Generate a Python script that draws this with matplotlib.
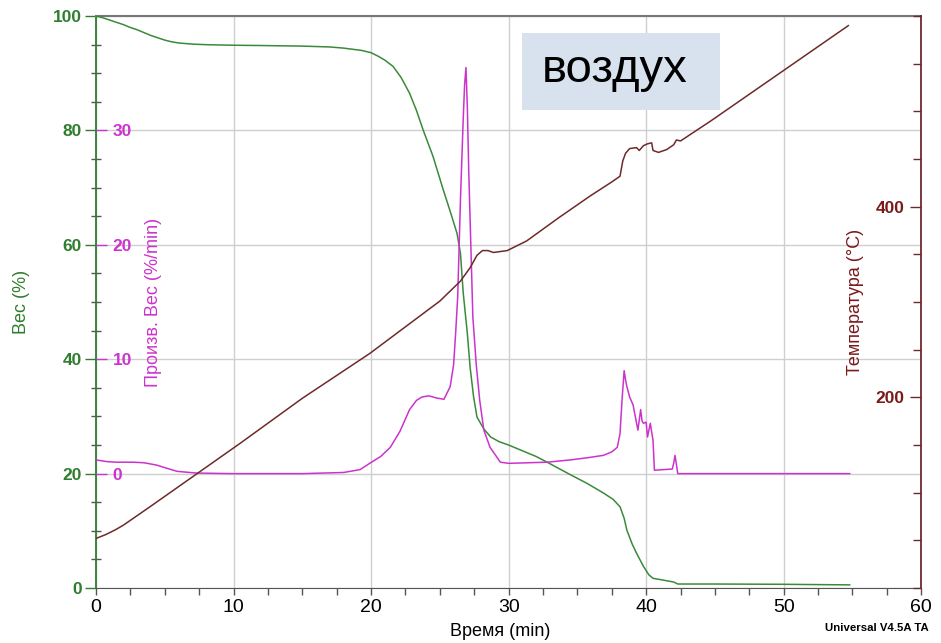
import matplotlib.pyplot as plt
from matplotlib.patches import Rectangle
from matplotlib.ticker import MultipleLocator

# TGA run in air: weight, derivative weight and temperature vs time
t_weight = [0, 0.5, 1, 1.5, 2, 2.5, 3, 3.5, 4, 4.5, 5, 5.5, 6, 7, 8, 10, 12, 15, 17,
            18, 19.3, 20.0, 20.5, 21.0, 21.6, 22.2, 22.8, 23.3, 23.8, 24.5, 25.2,
            25.8, 26.25, 26.5, 26.7, 27.0, 27.2, 27.45, 27.7, 28.2, 28.7, 29.3, 30,
            31, 32, 32.8, 34.5, 35.7, 36.9, 37.6, 38.1, 38.4, 38.6, 39.0, 39.3, 39.8,
            40.2, 40.5, 41.2, 42.0, 42.3, 45, 50, 54.8]
weight = [100, 99.7, 99.3, 98.9, 98.5, 98.0, 97.6, 97.1, 96.6, 96.2, 95.8, 95.5,
          95.3, 95.1, 95.0, 94.9, 94.85, 94.75, 94.6, 94.4, 94.0, 93.6, 93.0, 92.3,
          91.2, 89.2, 86.5, 83.5, 80, 75.5, 70, 65.5, 62, 58.5, 51.6, 44.5, 38.6,
          33.5, 29.9, 27.8, 26.4, 25.6, 25.0, 24.0, 23.0, 22.0, 19.8, 18.3, 16.6,
          15.5, 14.2, 12.2, 10.1, 7.6, 6.1, 3.8, 2.3, 1.7, 1.4, 1.05, 0.7, 0.7,
          0.65, 0.55]

t_deriv = [0, 0.8, 1.5, 2.7, 3.5, 4.4, 5.2, 5.9, 7.3, 10, 15, 18, 19.2, 19.9, 20.7,
           21.4, 22.1, 22.8, 23.3, 23.7, 24.2, 24.8, 25.3, 25.75, 26.0, 26.15, 26.3,
           26.5, 26.7, 26.8, 26.9, 27.0, 27.1, 27.4, 27.65, 27.9, 28.2, 28.65, 29.4,
           30, 32.8, 34.5, 35.8, 36.9, 37.5, 37.9, 38.1, 38.25, 38.4, 38.5, 38.6,
           38.8, 39.05, 39.4, 39.6, 39.7, 39.8, 40.0, 40.1, 40.3, 40.5, 40.6, 41.9,
           42.0, 42.1, 42.2, 42.3, 54.8]
deriv = [1.2, 1.05, 1.0, 1.0, 0.95, 0.75, 0.45, 0.2, 0.05, 0.0, 0.0, 0.1, 0.35,
         0.9, 1.5, 2.3, 3.7, 5.6, 6.4, 6.7, 6.8, 6.6, 6.5, 7.6, 9.5, 12.3, 15.5,
         24, 31, 34, 35.5, 32, 26.5, 13.7, 9.5, 6.4, 3.8, 2.3, 1.0, 0.9, 1.0, 1.2,
         1.4, 1.6, 1.9, 2.3, 3.5, 6.5, 9.0, 8.2, 7.6, 6.7, 6.0, 3.8, 5.6, 4.6, 4.4,
         4.5, 3.2, 4.4, 2.9, 0.3, 0.4, 0.9, 1.6, 0.8, 0.0, 0.0]

t_temp = [0, 0.7, 1.4, 2.0, 3, 4, 7.35, 10.5, 15, 19.9, 25, 26.5, 27.2, 27.7, 28.1,
          28.5, 28.9, 29.9, 31.3, 33.7, 35.9, 37.5, 38.1, 38.3, 38.5, 38.8, 39.3,
          39.5, 39.8, 40.1, 40.4, 40.5, 40.9, 41.5, 42.0, 42.2, 42.5, 44.7, 50, 54.7]
temp = [52, 56, 61, 66, 76, 86, 120, 152, 199, 246, 301, 322, 336, 349, 354, 354,
        352, 354, 364, 389, 411, 426, 432, 448, 456, 461, 462, 459, 464, 466, 467,
        459, 457, 460, 465, 470, 469, 490, 543, 590]

GREEN = '#2f7d2f'
MAGENTA = '#cc33cc'
BROWN = '#6e2a2a'
NARROW = ['Liberation Sans Narrow', 'Liberation Sans', 'DejaVu Sans']
ARIAL = ['Liberation Sans', 'DejaVu Sans']

plt.rcParams['font.family'] = ARIAL

fig = plt.figure(figsize=(9.41, 6.43), dpi=100)
ax = fig.add_axes([0.102, 0.0855, 0.877, 0.8895])
ax_d = ax.twinx()
ax_t = ax.twinx()

# weight
ax.plot(t_weight, weight, color='#3a8a3a', lw=1.1, zorder=3)
ax.set_xlim(0, 60)
ax.set_ylim(0, 100)
ax.xaxis.set_major_locator(MultipleLocator(10))
ax.xaxis.set_minor_locator(MultipleLocator(2.5))
ax.yaxis.set_major_locator(MultipleLocator(20))
ax.yaxis.set_minor_locator(MultipleLocator(5))
ax.grid(True, which='major', color='#cfcfcf', lw=1.0)
ax.set_axisbelow(True)
ax.tick_params(axis='y', which='major', direction='out', length=8, width=1,
               color=GREEN, labelcolor=GREEN, labelsize=12.5, pad=2)
ax.tick_params(axis='y', which='minor', direction='inout', length=7, width=1,
               color='#555555')
ax.tick_params(axis='x', which='both', direction='out', length=5, width=1,
               color='#555555', labelsize=14, pad=3)
for lab in ax.get_yticklabels():
    lab.set_fontweight('bold')
for lab in ax.get_xticklabels():
    lab.set_family(NARROW)
ax.spines['left'].set_color(GREEN)
ax.spines['left'].set_linewidth(1.3)
ax.spines['top'].set_color('#777777')
ax.spines['top'].set_linewidth(1.5)
ax.spines['bottom'].set_color('#555555')
ax.spines['right'].set_visible(False)
ax.set_ylabel('Вес (%)', color=GREEN, fontsize=13)
ax.yaxis.set_label_coords(-0.08, 0.5)
ax.set_xlabel('Время (min)', fontsize=13, family=NARROW)
ax.xaxis.set_label_coords(0.49, -0.062)

# derivative weight, ticks inside on the left spine
ax_d.plot(t_deriv, deriv, color=MAGENTA, lw=1.1, zorder=3)
ax_d.set_ylim(-10, 40)
ax_d.set_yticks([0, 10, 20, 30])
ax_d.yaxis.set_ticks_position('left')
ax_d.yaxis.set_label_position('left')
ax_d.tick_params(axis='y', direction='in', length=8, width=1, color=MAGENTA,
                 labelcolor=MAGENTA, labelsize=12.5, pad=-12)
for lab in ax_d.get_yticklabels():
    lab.set_horizontalalignment('left')
    lab.set_fontweight('bold')
for side in ax_d.spines:
    ax_d.spines[side].set_visible(False)
ax_d.set_ylabel('Произв. Вес (%/min)', color=MAGENTA, fontsize=13)
ax_d.yaxis.set_label_coords(0.08, 0.5)

# temperature, ticks inside on the right spine
ax_t.plot(t_temp, temp, color=BROWN, lw=1.1, zorder=3)
ax_t.set_ylim(0, 600)
ax_t.set_yticks([200, 400])
ax_t.yaxis.set_minor_locator(MultipleLocator(50))
ax_t.tick_params(axis='y', which='major', direction='in', length=8, width=1,
                 color=BROWN, labelcolor='#7a1a1a', labelsize=12.5, pad=-12)
ax_t.tick_params(axis='y', which='minor', direction='in', length=6, width=1,
                 color=BROWN)
for lab in ax_t.get_yticklabels():
    lab.set_horizontalalignment('right')
    lab.set_fontweight('bold')
for side in ['left', 'top', 'bottom']:
    ax_t.spines[side].set_visible(False)
ax_t.spines['right'].set_color(BROWN)
ax_t.spines['right'].set_linewidth(1.3)
ax_t.set_ylabel('Температура (°C)', color='#7a1a1a', fontsize=13, rotation=90)
ax_t.yaxis.set_label_coords(0.91, 0.5)

# atmosphere label box
ax.add_patch(Rectangle((0.516, 0.836), 0.24, 0.134, transform=ax.transAxes,
                       facecolor='#d8e2ef', edgecolor='none', zorder=4))
ax.text(0.628, 0.905, 'воздух', transform=ax.transAxes, fontsize=34,
        ha='center', va='center', color='black', zorder=5)

fig.text(0.877, 0.023, 'Universal V4.5A TA', fontsize=8.2, fontweight='bold',
         family=NARROW, ha='left', va='center')

fig.savefig('out.png', dpi=100)
